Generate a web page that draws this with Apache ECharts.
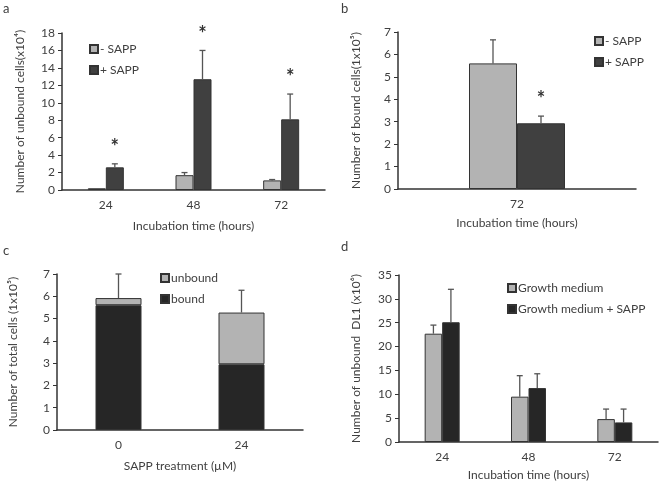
<!DOCTYPE html>
<html>
<head>
<meta charset="utf-8">
<script src="https://cdn.jsdelivr.net/npm/echarts@6/dist/echarts.min.js"></script>
<style>
  html, body { margin: 0; padding: 0; background: #fff; }
  #main { width: 660px; height: 482px; }
</style>
</head>
<body>
<div id="main"></div>
<script type="text/javascript">
// ---- data ----
// a: unbound cells (x10^4)
var aCats = ['24', '48', '72'];
var aMinus = [0.2, 1.7, 1.1];
var aMinusErr = [0, 0.3, 0.1];
var aPlus = [2.6, 12.7, 8.1];
var aPlusErr = [0.4, 3.3, 2.9];
var aStar = [4.9, 17.8, 12.9];
// b: bound cells (1x10^5)
var bCats = ['72'];
var bMinus = [5.6];
var bMinusErr = [1.05];
var bPlus = [2.93];
var bPlusErr = [0.32];
var bStar = [4.0];
// c: total cells (1x10^5)
var cCats = ['0', '24'];
var cBound = [5.6, 2.95];
var cUnbound = [0.32, 2.32];
var cTotalErr = [1.08, 1.0];
// d: unbound DL1 (x10^6)
var dCats = ['24', '48', '72'];
var dGrowth = [22.7, 9.5, 4.8];
var dGrowthErr = [1.8, 4.4, 2.1];
var dSapp = [25.1, 11.3, 4.1];
var dSappErr = [6.9, 3.0, 2.8];

var FONT = 'Lato';
var TXT = '#404040';
var LIGHT = '#b3b3b3';
var DARK = '#404040';
var DARKER = '#262626';

// 误差线（只画向上的一半）
function errRender(offset) {
  return function(params, api) {
    var e = api.value(2);
    if (!e) return;
    var p0 = api.coord([api.value(0), api.value(1)]);
    var p1 = api.coord([api.value(0), api.value(1) + e]);
    var cx = p0[0] + offset;
    return {
      type: 'group',
      children: [
        { type: 'line', shape: { x1: cx, y1: p0[1], x2: cx, y2: p1[1] }, style: { stroke: '#555', lineWidth: 1.3 } },
        { type: 'line', shape: { x1: cx - 3, y1: p1[1], x2: cx + 3, y2: p1[1] }, style: { stroke: '#555', lineWidth: 1.3 } }
      ]
    };
  };
}
// 星号
function starRender(offset) {
  return function(params, api) {
    var p = api.coord([api.value(0), api.value(1)]);
    return {
      type: 'text',
      x: p[0] + offset, y: p[1],
      style: { text: '*', fontSize: 20, fontWeight: 'bold', fontFamily: FONT, fill: '#333', align: 'center', verticalAlign: 'middle' }
    };
  };
}
function triple(vals, errs) {
  return vals.map(function(v, i) { return [i, v, errs ? errs[i] : 0]; });
}
function stackTotal() {
  return cBound.map(function(v, i) { return [i, v + cUnbound[i], cTotalErr[i]]; });
}

function xAx(idx, cats, name, gap) {
  return {
    type: 'category', gridIndex: idx, data: cats,
    name: name, nameLocation: 'middle', nameGap: gap,
    nameTextStyle: { color: TXT, fontSize: 12, fontFamily: FONT },
    axisLine: { lineStyle: { color: '#333', width: 1.5 } },
    axisTick: { show: false },
    axisLabel: { color: TXT, fontSize: 12, fontFamily: FONT, margin: 9 }
  };
}
function yAx(idx, max, interval, name, gap) {
  return {
    type: 'value', gridIndex: idx, min: 0, max: max, interval: interval,
    name: name, nameLocation: 'middle', nameGap: gap, nameRotate: 90,
    nameTextStyle: { color: TXT, fontSize: 12, fontFamily: FONT },
    splitLine: { show: false },
    axisLine: { show: true, lineStyle: { color: '#333', width: 1.5 } },
    axisTick: { show: true, length: 4, lineStyle: { color: '#333' } },
    axisLabel: { color: TXT, fontSize: 12, fontFamily: FONT, margin: 7 }
  };
}
function bar(name, idx, vals, color, width, stack) {
  return {
    name: name, type: 'bar', xAxisIndex: idx, yAxisIndex: idx,
    data: vals, barWidth: width, barGap: '0%', stack: stack,
    itemStyle: { color: color, borderColor: '#333', borderWidth: 1 },
    emphasis: { disabled: true }, animation: false
  };
}
function custom(idx, data, fn) {
  return {
    type: 'custom', xAxisIndex: idx, yAxisIndex: idx, data: data,
    renderItem: fn, silent: true, animation: false, z: 5
  };
}
function lg(left, top, names) {
  return {
    left: left, top: top, orient: 'vertical', data: names,
    icon: 'rect', itemWidth: 8, itemHeight: 8, itemGap: 9,
    selectedMode: false,
    textStyle: { color: TXT, fontSize: 12, fontFamily: FONT, padding: [0, 0, 0, -3] }
  };
}
function panelLabel(x, y, t) {
  return { type: 'text', left: x, top: y, style: { text: t, fontSize: 13, fontFamily: FONT, fill: TXT } };
}

var chart = echarts.init(document.getElementById('main'));
chart.setOption({
  backgroundColor: '#fff',
  animation: false,
  textStyle: { fontFamily: FONT },
  graphic: [
    panelLabel(3, 2, 'a'),
    panelLabel(341, 2, 'b'),
    panelLabel(3, 244, 'c'),
    panelLabel(341, 240, 'd')
  ],
  grid: [
    { left: 62, top: 33, width: 263, height: 157 },
    { left: 398, top: 32, width: 238, height: 157 },
    { left: 57, top: 274, width: 246, height: 156 },
    { left: 399, top: 275, width: 259, height: 167 }
  ],
  legend: [
    lg(84, 38, ['- SAPP', '+ SAPP']),
    lg(589, 30, ['- SAPP', '+ SAPP']),
    lg(155, 267, ['unbound', 'bound']),
    lg(502, 277, ['Growth medium', 'Growth medium + SAPP'])
  ],
  xAxis: [
    xAx(0, aCats, 'Incubation time (hours)', 30),
    xAx(1, bCats, 'Incubation time (hours)', 28),
    xAx(2, cCats, 'SAPP treatment (\u00b5M)', 30),
    xAx(3, dCats, 'Incubation time (hours)', 27)
  ],
  yAxis: [
    yAx(0, 18, 2, 'Number of unbound cells(x10\u2074)', 36),
    yAx(1, 7, 1, 'Number of bound cells(1x10\u2075)', 36),
    yAx(2, 7, 1, 'Number of total cells (1x10\u2075)', 38),
    yAx(3, 35, 5, 'Number of unbound  DL1 (x10\u2076)', 37)
  ],
  series: [
    bar('- SAPP', 0, aMinus, LIGHT, 18),
    bar('+ SAPP', 0, aPlus, DARK, 18),
    custom(0, triple(aMinus, aMinusErr), errRender(-9)),
    custom(0, triple(aPlus, aPlusErr), errRender(9)),
    custom(0, triple(aStar), starRender(9)),

    bar('- SAPP', 1, bMinus, LIGHT, 48),
    bar('+ SAPP', 1, bPlus, DARK, 48),
    custom(1, triple(bMinus, bMinusErr), errRender(-24)),
    custom(1, triple(bPlus, bPlusErr), errRender(24)),
    custom(1, triple(bStar), starRender(24)),

    bar('bound', 2, cBound, DARKER, 46, 'tot'),
    bar('unbound', 2, cUnbound, LIGHT, 46, 'tot'),
    custom(2, stackTotal(), errRender(0)),

    bar('Growth medium', 3, dGrowth, LIGHT, 17.5),
    bar('Growth medium + SAPP', 3, dSapp, DARKER, 17.5),
    custom(3, triple(dGrowth, dGrowthErr), errRender(-8.75)),
    custom(3, triple(dSapp, dSappErr), errRender(8.75))
  ]
});
</script>
</body>
</html>
